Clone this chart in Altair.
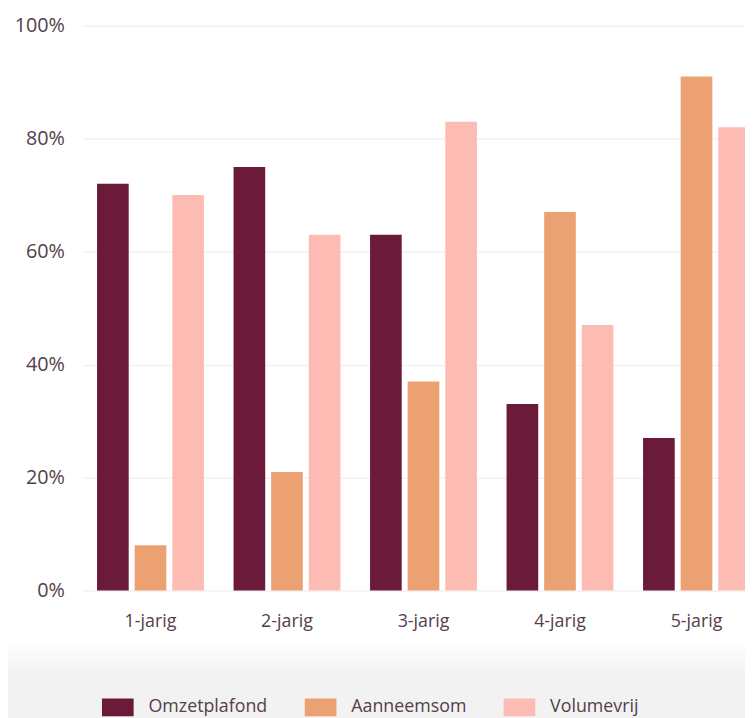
import altair as alt
import pandas as pd

categories = ["1-jarig", "2-jarig", "3-jarig", "4-jarig", "5-jarig"]
series = ["Omzetplafond", "Aanneemsom", "Volumevrij"]
omzetplafond = [72, 75, 63, 33, 27]
aanneemsom = [8, 21, 37, 67, 91]
volumevrij = [70, 63, 83, 47, 82]
colors = ["#6b1a3a", "#eba172", "#fdbcb3"]

rows = []
for i, c in enumerate(categories):
    for s, vals in zip(series, [omzetplafond, aanneemsom, volumevrij]):
        rows.append({"cat": c, "serie": s, "val": vals[i] / 100})
df = pd.DataFrame(rows)

W = 671
H = 571
FONT = "Open Sans"
TXT = "#54404b"

band = alt.Chart(pd.DataFrame({"a": [0]})).mark_rect(
    color=alt.Gradient(
        gradient="linear", x1=0, x2=0, y1=0, y2=1,
        stops=[alt.GradientStop(color="#ffffff", offset=0),
               alt.GradientStop(color="#f2f2f2", offset=0.45),
               alt.GradientStop(color="#f2f2f2", offset=1)]),
).encode(x=alt.value(-82), x2=alt.value(W + 10), y=alt.value(620), y2=alt.value(700))

bars = alt.Chart(df).mark_bar(clip=False).encode(
    x=alt.X("cat:N", sort=categories, title=None,
            scale=alt.Scale(range=[1, 691], paddingInner=0.217, paddingOuter=0.1087),
            axis=alt.Axis(labelAngle=0, domain=False, ticks=False, labelPadding=22,
                          labelFontSize=18, labelColor=TXT, labelFont=FONT)),
    xOffset=alt.XOffset("serie:N", sort=series,
                        scale=alt.Scale(paddingInner=0.158, paddingOuter=0)),
    y=alt.Y("val:Q", title=None,
            scale=alt.Scale(domain=[0, 1], nice=False),
            axis=alt.Axis(format="%", values=[0, 0.2, 0.4, 0.6, 0.8, 1.0], domain=False,
                          ticks=False, labelPadding=17, labelFontSize=20,
                          labelColor=TXT, labelFont=FONT, gridColor="#f4f1f1",
                          gridWidth=1.5)),
    color=alt.Color("serie:N", sort=series,
                    scale=alt.Scale(domain=series, range=colors),
                    legend=alt.Legend(title=None, orient="none", legendX=21, legendY=673,
                                      direction="horizontal", columns=3,
                                      symbolType="M-1,-0.56H1V0.56H-1Z", symbolSize=1024,
                                      symbolStrokeWidth=0, labelOffset=15,
                                      labelFontSize=18, labelColor=TXT, labelFont=FONT,
                                      columnPadding=37, symbolOpacity=1)),
)

chart = alt.layer(band, bars).properties(
    width=W, height=H,
    autosize=alt.AutoSizeParams(type="none"),
    padding={"left": 74, "top": 14, "right": 0, "bottom": 125},
    background="#ffffff",
).configure_view(stroke=None)

chart.save("out.html", embed_options={"renderer": "svg", "actions": False})
